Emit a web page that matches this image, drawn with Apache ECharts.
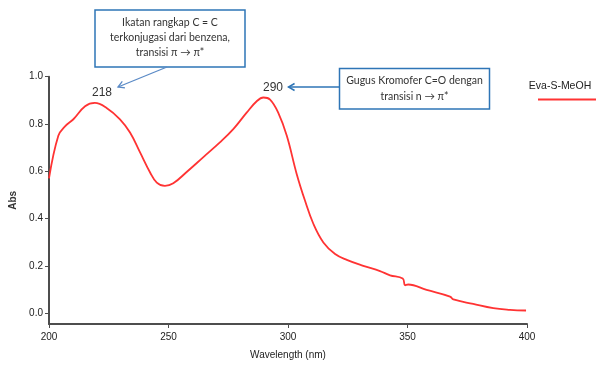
<!DOCTYPE html>
<html>
<head>
<meta charset="utf-8">
<script src="https://cdn.jsdelivr.net/npm/echarts@6/dist/echarts.min.js"></script>
<style>html,body{margin:0;padding:0;background:#fff;}#c{width:597px;height:365px;}</style>
</head>
<body>
<div id="c"></div>
<script>
var wavelengths = [200, 203.9, 206.7, 210.2, 215.1, 219.2, 224.1, 229.7, 233.9, 238.1, 242.3, 245.1, 248.5, 252, 257.6, 264.6, 271.5, 277.1, 282.7, 286.9, 289.7, 292.5, 295.9, 299.5, 303.6, 307.1, 310.6, 314.8, 319.7, 324.6, 331.5, 338.5, 342.7, 348, 349, 350.3, 358, 367.8, 369.2, 377.5, 385.9, 392.9, 399.6];
var absValues = [0.570, 0.750, 0.790, 0.820, 0.875, 0.889, 0.868, 0.820, 0.764, 0.680, 0.595, 0.552, 0.538, 0.549, 0.597, 0.660, 0.722, 0.778, 0.848, 0.896, 0.912, 0.903, 0.848, 0.750, 0.590, 0.476, 0.378, 0.299, 0.250, 0.225, 0.200, 0.178, 0.160, 0.146, 0.118, 0.121, 0.098, 0.070, 0.058, 0.039, 0.021, 0.014, 0.011];
var yTicks = [0, 0.2, 0.4, 0.6, 0.8, 1.0];
var seriesName = 'Eva-S-MeOH';
var note1 = ['Ikatan rangkap C = C', 'terkonjugasi dari benzena,', 'transisi π → π*'];
var note2 = ['Gugus Kromofer C=O dengan', 'transisi n → π*'];
var peakLabels = ['218', '290'];

var data = wavelengths.map(function (w, i) { return [w, absValues[i]]; });

function arrow(x1, y1, x2, y2, color, w) {
  var dx = x2 - x1, dy = y2 - y1, L = Math.sqrt(dx * dx + dy * dy);
  var ux = dx / L, uy = dy / L, hl = 7, a = Math.PI / 6;
  var c = Math.cos(a), s = Math.sin(a);
  var p1 = [x2 - hl * (ux * c - uy * s), y2 - hl * (uy * c + ux * s)];
  var p2 = [x2 - hl * (ux * c + uy * s), y2 - hl * (uy * c - ux * s)];
  return [
    { type: 'line', shape: { x1: x1, y1: y1, x2: x2, y2: y2 }, style: { stroke: color, lineWidth: w } },
    { type: 'polyline', shape: { points: [p1, [x2, y2], p2] }, style: { stroke: color, lineWidth: w, fill: null } }
  ];
}

var noteFont = 'Lato, "Liberation Sans", sans-serif';
var axisFont = '"Liberation Sans", Arial, sans-serif';
var graphics = [
  { type: 'rect', shape: { x: 95, y: 10, width: 150, height: 57 }, style: { fill: '#fff', stroke: '#2e75b6', lineWidth: 1.5 } },
  { type: 'text', x: 170, y: 38, style: { text: note1.join('\n'), fontSize: 10.5, lineHeight: 15, fontFamily: noteFont, fill: '#333', align: 'center', verticalAlign: 'middle' } },
  { type: 'rect', shape: { x: 339.5, y: 68.5, width: 150, height: 40.5 }, style: { fill: '#fff', stroke: '#2e75b6', lineWidth: 1.5 } },
  { type: 'text', x: 414.5, y: 88.5, style: { text: note2.join('\n'), fontSize: 10.5, lineHeight: 15.5, fontFamily: noteFont, fill: '#333', align: 'center', verticalAlign: 'middle' } },
  { type: 'text', x: 102, y: 93, style: { text: peakLabels[0], fontSize: 12, fontFamily: axisFont, fill: '#333', align: 'center', verticalAlign: 'middle' } },
  { type: 'text', x: 273, y: 87.5, style: { text: peakLabels[1], fontSize: 12, fontFamily: axisFont, fill: '#333', align: 'center', verticalAlign: 'middle' } },
  { type: 'text', x: 560, y: 86, style: { text: seriesName, fontSize: 10.5, fontFamily: axisFont, fill: '#222', align: 'center', verticalAlign: 'middle' } },
  { type: 'line', shape: { x1: 538, y1: 99.5, x2: 596, y2: 99.5 }, style: { stroke: '#ff3333', lineWidth: 2 } }
].concat(arrow(167, 67, 118, 87, '#5a8ac6', 1.3)).concat(arrow(339.5, 87, 288.5, 87, '#2e75b6', 1.5));

var chart = echarts.init(document.getElementById('c'), null, { renderer: 'canvas' });
chart.setOption({
  animation: false,
  backgroundColor: '#fff',
  grid: { left: 49, right: 70, top: 76.7, bottom: 37.3, containLabel: false },
  xAxis: {
    type: 'value', min: 200, max: 400, interval: 50,
    name: 'Wavelength (nm)', nameLocation: 'middle', nameGap: 26,
    nameTextStyle: { fontSize: 10, color: '#222', fontFamily: axisFont },
    axisLine: { onZero: false, lineStyle: { color: '#4d4d4d', width: 2 } },
    axisTick: { length: 4, lineStyle: { color: '#4d4d4d', width: 1 } },
    axisLabel: { fontSize: 10, color: '#222', margin: 8, fontFamily: axisFont },
    splitLine: { show: false }
  },
  yAxis: {
    type: 'value', min: -0.046, max: 1.0,
    name: 'Abs', nameLocation: 'middle', nameGap: 28, nameRotate: 90,
    nameTextStyle: { fontSize: 10, fontWeight: 'bold', color: '#333', fontFamily: axisFont },
    axisLine: { show: true, lineStyle: { color: '#4d4d4d', width: 2 } },
    axisTick: { show: true, length: 4, customValues: yTicks, lineStyle: { color: '#4d4d4d', width: 1 } },
    axisLabel: { fontSize: 10, color: '#222', margin: 6, customValues: yTicks, fontFamily: axisFont,
      formatter: function (v) { return v.toFixed(1); } },
    splitLine: { show: false }
  },
  series: [{
    name: seriesName, type: 'line', data: data, smooth: 0.4, showSymbol: false,
    lineStyle: { color: '#ff3333', width: 1.8 }
  }],
  graphic: graphics
});
</script>
</body>
</html>
